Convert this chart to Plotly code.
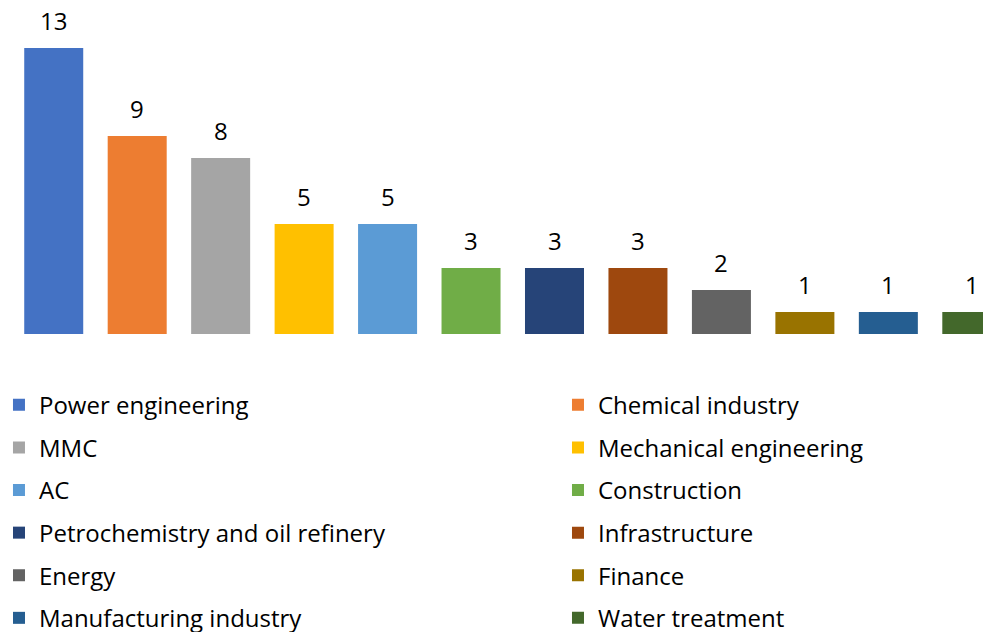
import plotly.graph_objects as go

categories = ["Power engineering", "Chemical industry", "MMC", "Mechanical engineering",
              "AC", "Construction", "Petrochemistry and oil refinery", "Infrastructure",
              "Energy", "Finance", "Manufacturing industry", "Water treatment"]
values = [13, 9, 8, 5, 5, 3, 3, 3, 2, 1, 1, 1]
colors = ["#4472C4", "#ED7D31", "#A5A5A5", "#FFC000", "#5B9BD5", "#70AD47",
          "#264478", "#9E480E", "#636363", "#997300", "#255E91", "#43682B"]

FONT = "Open Sans"

fig = go.Figure()

# one trace per category so each gets its own legend entry
for i, (cat, val, col) in enumerate(zip(categories, values, colors)):
    fig.add_trace(go.Bar(
        x=[i], y=[val], name=cat, marker=dict(color=col, line=dict(width=0)),
        width=0.707, legendgroup=cat,
        legend="legend" if i % 2 == 0 else "legend2",
        hovertemplate=cat + ": %{y}<extra></extra>",
    ))
    # value label above the bar
    fig.add_annotation(x=i, y=val, text=str(val), showarrow=False,
                       yanchor="bottom", yshift=14, height=24, valign="middle",
                       font=dict(family=FONT, size=24, color="#000000"))

legend_style = dict(font=dict(family=FONT, size=24, color="#000000"),
                    tracegroupgap=8.4, orientation="v", yanchor="top",
                    bgcolor="rgba(0,0,0,0)", itemclick=False)

fig.update_layout(
    width=983, height=624,
    margin=dict(l=4, r=0, t=0, b=298, autoexpand=False),
    barmode="overlay",
    plot_bgcolor="white", paper_bgcolor="white",
    font=dict(family=FONT, size=24, color="#000000"),
    xaxis=dict(range=[-0.5, 11.23], visible=False, fixedrange=True),
    yaxis=dict(range=[0, 14.82], visible=False, fixedrange=True),
    legend=dict(x=-0.0133, y=-0.1495, xanchor="left", **legend_style),
    legend2=dict(x=0.5577, y=-0.1495, xanchor="left", **legend_style),
)

fig.write_html("out.html")
